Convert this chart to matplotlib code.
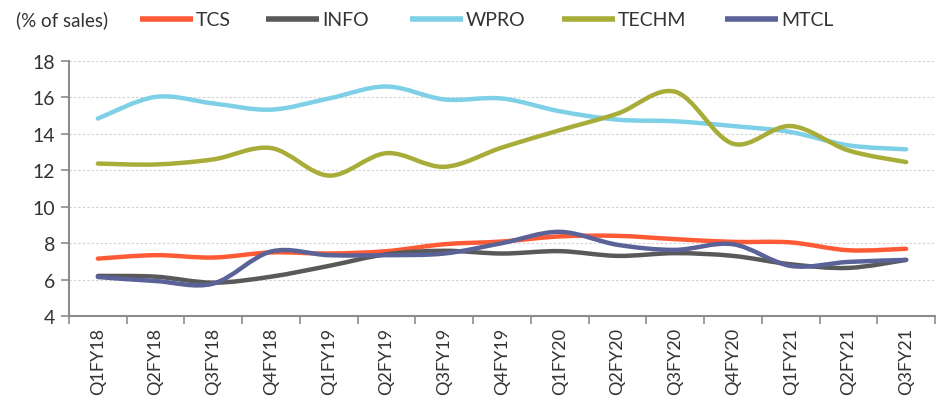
import matplotlib
matplotlib.use("Agg")
import matplotlib.pyplot as plt
from matplotlib.path import Path
from matplotlib.patches import PathPatch
from matplotlib.lines import Line2D
import numpy as np

categories = ["Q1FY18", "Q2FY18", "Q3FY18", "Q4FY18", "Q1FY19", "Q2FY19", "Q3FY19",
              "Q4FY19", "Q1FY20", "Q2FY20", "Q3FY20", "Q4FY20", "Q1FY21", "Q2FY21", "Q3FY21"]
tcs = [7.15, 7.34, 7.21, 7.49, 7.43, 7.56, 7.94, 8.09, 8.37, 8.40, 8.22, 8.07, 8.04, 7.61, 7.69]
info = [6.20, 6.16, 5.83, 6.16, 6.75, 7.39, 7.58, 7.43, 7.56, 7.30, 7.45, 7.30, 6.84, 6.64, 7.08]
wpro = [14.84, 16.03, 15.67, 15.33, 15.94, 16.60, 15.89, 15.94, 15.24, 14.78, 14.69, 14.43, 14.10, 13.37, 13.15]
techm = [12.37, 12.32, 12.60, 13.22, 11.71, 12.94, 12.19, 13.25, 14.20, 15.11, 16.31, 13.46, 14.43, 13.09, 12.45]
mtcl = [6.14, 5.92, 5.78, 7.54, 7.34, 7.34, 7.43, 8.00, 8.62, 7.91, 7.63, 7.94, 6.75, 6.97, 7.08]

series = [("TCS", tcs, "#FF5A36"), ("INFO", info, "#595959"), ("WPRO", wpro, "#7ED0E6"),
          ("TECHM", techm, "#A7AD38"), ("MTCL", mtcl, "#5A6298")]
yticks = [4, 6, 8, 10, 12, 14, 16, 18]

plt.rcParams['font.family'] = ['Lato', 'DejaVu Sans']
TXT = '#333333'

W, H = 943, 406
fig = plt.figure(figsize=(W/100, H/100), dpi=100)
ax = fig.add_axes([69/W, 1-317/H, (935-69)/W, (317-62)/H])

def smooth_path(xs, ys):
    pts = np.column_stack([xs, ys]).astype(float)
    n = len(pts)
    verts = [pts[0]]
    codes = [Path.MOVETO]
    for i in range(n - 1):
        p0 = pts[i - 1] if i > 0 else pts[i]
        p1 = pts[i]
        p2 = pts[i + 1]
        p3 = pts[i + 2] if i + 2 < n else pts[i + 1]
        c1 = p1 + (p2 - p0) / 6.0
        c2 = p2 - (p3 - p1) / 6.0
        verts += [c1, c2, p2]
        codes += [Path.CURVE4] * 3
    return Path(verts, codes)

x = np.arange(len(categories))
for name, vals, col in series:
    patch = PathPatch(smooth_path(x, vals), facecolor='none', edgecolor=col, lw=3.2,
                      capstyle='round', joinstyle='round', zorder=3)
    ax.add_patch(patch)

ax.set_xlim(-0.5, len(categories) - 0.5)
ax.set_ylim(4, 18)
ax.set_yticks(yticks)
ax.set_yticklabels([str(t) for t in yticks], fontsize=14, color=TXT)
ax.set_xticks(x)
ax.set_xticklabels(categories, rotation=90, fontsize=13, color=TXT)
ax.tick_params(axis='x', which='major', length=0, pad=8)
ax.set_xticks(np.arange(-0.5, len(categories), 1.0), minor=True)
ax.tick_params(axis='x', which='minor', length=6, width=1.2, color='#8c8c8c', direction='out')
ax.tick_params(axis='y', length=6, width=1.2, color='#8c8c8c', direction='out', pad=4)

for s in ['top', 'right']:
    ax.spines[s].set_visible(False)
for s in ['left', 'bottom']:
    ax.spines[s].set_color('#8c8c8c')
    ax.spines[s].set_linewidth(1.5)

ax.yaxis.grid(True, linestyle=(0, (2, 2)), color='#d0d0d0', lw=0.8)
ax.set_axisbelow(True)

# legend row (manual placement to match reference)
ly = 1 - 20/H
fig.text(16/W, ly, "(% of sales)", fontsize=13.5, color=TXT, va='center', ha='left')
legend_x = [140, 266, 410, 562, 725]
for (name, vals, col), lx in zip(series, legend_x):
    fig.add_artist(Line2D([lx/W, (lx+53)/W], [ly, ly], color=col, lw=4,
                          solid_capstyle='butt', transform=fig.transFigure))
    fig.text((lx+56)/W, ly, name, fontsize=14, color=TXT, va='center', ha='left')

fig.savefig("out.png", dpi=100, facecolor='white')
